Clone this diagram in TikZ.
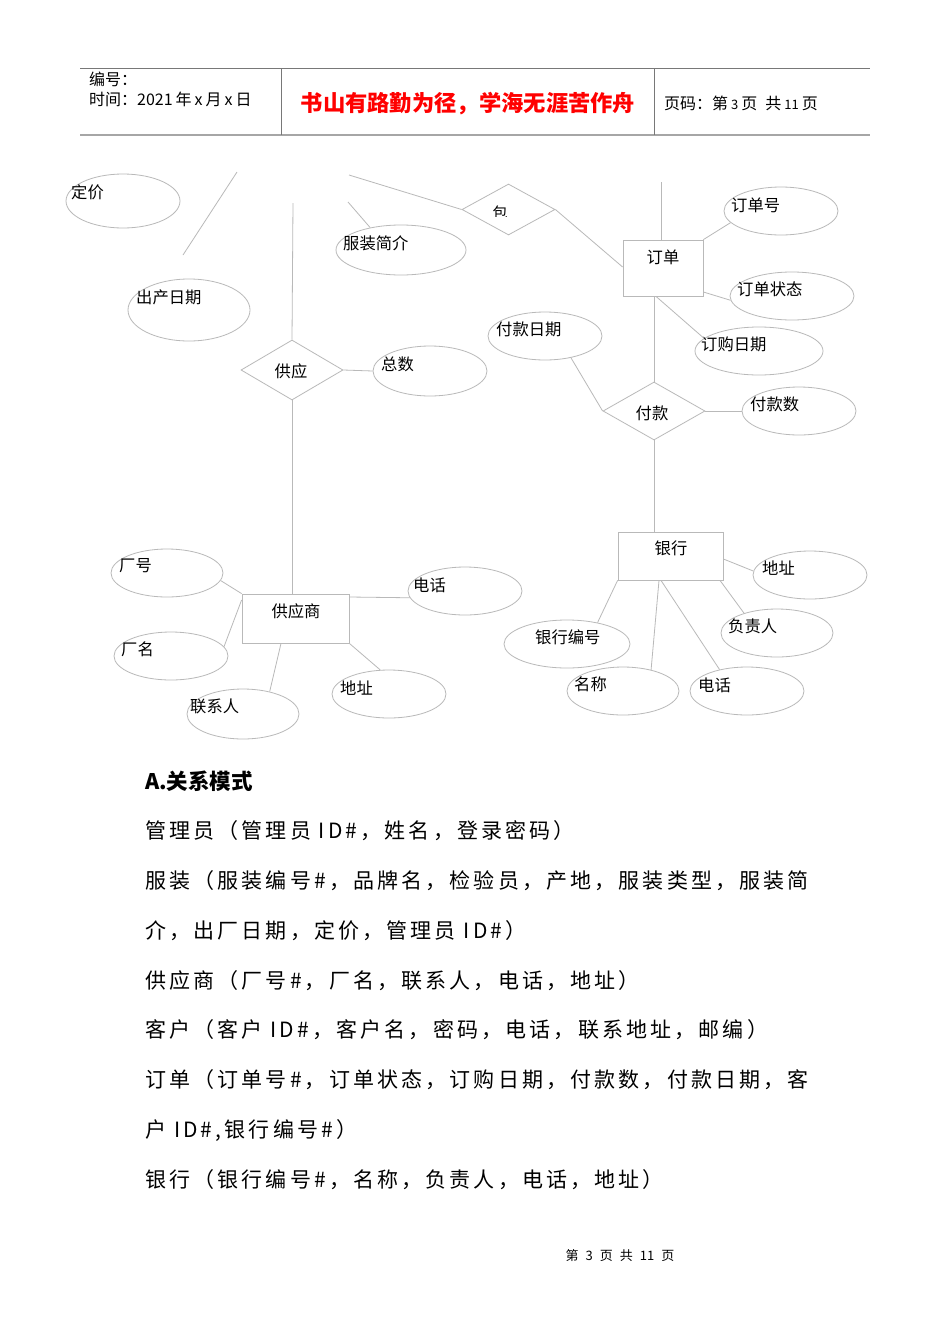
\documentclass[tikz,border=0pt]{standalone}
\usepackage{fontspec}
\setmainfont{Noto Sans CJK SC}
\newfontfamily\bodyfont[LetterSpace=15]{Noto Sans CJK SC}
\usetikzlibrary{shapes.geometric}
\definecolor{ln}{RGB}{185,185,185}
\definecolor{hd}{RGB}{120,120,120}
\tikzset{
  ent/.style={draw=ln, line width=0.8pt, inner sep=0pt},
  attr/.style={draw=ln, line width=0.8pt, ellipse, inner sep=0pt},
  rel/.style={draw=ln, line width=0.8pt, diamond, inner sep=0pt},
  con/.style={draw=ln, line width=0.8pt},
  lab/.style={anchor=west, inner sep=0pt, font=\fontsize{16.3}{17}\selectfont},
  hdr/.style={anchor=west, inner sep=0pt, font=\fontsize{16}{17}\selectfont},
  body/.style={anchor=west, inner sep=0pt, font=\bodyfont\fontsize{21}{23}\selectfont},
}
\begin{document}
\begin{tikzpicture}[x=1pt,y=-1pt]
\useasboundingbox[fill=white] (0,0) rectangle (950,1344);
% header
\coordinate (hl) at (80,68); \coordinate (hr) at (870,68);
\coordinate (bl) at (80,135); \coordinate (br) at (870,135);
\coordinate (v1t) at (281,68); \coordinate (v1b) at (281,135);
\coordinate (v2t) at (654,68); \coordinate (v2b) at (654,135);
\draw[hd, line width=0.8pt] (hl) -- (hr);
\draw[gray!70, line width=1.8pt] (bl) -- (br);
\draw[hd, line width=0.8pt] (v1t) -- (v1b) (v2t) -- (v2b);
\node[hdr] (h1) at (89,79) {编号：};
\node[hdr] (h2) at (89,99) {时间：2021\hspace{3pt}年\hspace{3pt}x\hspace{3pt}月\hspace{3pt}x\hspace{3pt}日};
\node[inner sep=0pt, text=red, font=\bfseries\fontsize{22.3}{24}\selectfont] (h3) at (468,104) {书山有路勤为径，学海无涯苦作舟};
\node[hdr] (h4) at (664,103) {页码：第\hspace{3pt}{\fontsize{13}{13}\selectfont 3}\hspace{3pt}页\hspace{8pt}共\hspace{3pt}{\fontsize{13}{13}\selectfont 11}\hspace{3pt}页};

% ---- left part
\node[attr, minimum width=114pt, minimum height=54pt] (dj) at (123,201) {};
\node[lab] at (71,192) {定价};
\coordinate (l1a) at (237,172); \coordinate (l1b) at (183,255);
\draw[con] (l1a) -- (l1b);
\node[attr, minimum width=122pt, minimum height=62pt] (ccrq) at (189,310) {};
\node[lab] at (136,297) {出产日期};
\node[attr, minimum width=130pt, minimum height=50pt] (fzjj) at (401,250) {};
\node[lab] at (343,243) {服装简介};
\coordinate (l2a) at (348,202);
\draw[con] (l2a) -- (fzjj.144);
\coordinate (vtop) at (293,203);
\node[rel, minimum width=102pt, minimum height=60pt] (gy) at (292,370) {};
\node[font=\fontsize{16.3}{17}\selectfont] at (291,371) {供应};
\draw[con] (vtop) -- (gy.north);
\node[attr, minimum width=114pt, minimum height=50pt] (zs) at (430,371) {};
\node[lab] at (381,364) {总数};
\draw[con] (gy.east) -- (zs.west);
\node[ent, minimum width=107pt, minimum height=49pt] (gys) at (295.5,618.5) {};
\node[font=\fontsize{16.3}{17}\selectfont] at (296,611) {供应商};
\draw[con] (gy.south) -- (gys.north -| gy.south);

\node[attr, minimum width=112pt, minimum height=48pt] (ch) at (167,573) {};
\node[lab] at (119,566) {厂号};
\node[attr, minimum width=114pt, minimum height=48pt] (cm) at (171,656) {};
\node[lab] at (121,649) {厂名};
\node[attr, minimum width=112pt, minimum height=50pt] (lxr) at (243,714) {};
\node[lab] at (190,706) {联系人};
\node[attr, minimum width=114pt, minimum height=48pt] (dz1) at (389,694) {};
\node[lab] at (340,688) {地址};
\node[attr, minimum width=114pt, minimum height=48pt] (dh1) at (465,591) {};
\node[lab] at (413,585) {电话};
\draw[con] (ch.-8) -- (gys.north west);
\draw[con] (gys.west |- 0,600) -- (cm.10);
\draw[con] (gys.south -| 281,0) -- (lxr.40);
\draw[con] (gys.south east) -- (dz1.110);
\draw[con] (gys.east |- 0,597) -- (dh1.187);

% ---- right part
\coordinate (l3a) at (349,175);
\node[rel, minimum width=93pt, minimum height=51pt] (bao) at (508.5,209.5) {};
\begin{scope}
\clip (490,198) rectangle (525,216);
\node[font=\fontsize{15}{16}\selectfont] at (500,213) {包};
\end{scope}
\draw[con] (l3a) -- (bao.west);
\node[ent, minimum width=80pt, minimum height=56pt] (dd) at (663,268) {};
\node[font=\fontsize{16.3}{17}\selectfont] at (663,257) {订单};
\draw[con] (bao.east) -- (dd.west |- 0,267);
\coordinate (l4a) at (661,182);
\draw[con] (l4a) -- (dd.north -| l4a);
\node[attr, minimum width=114pt, minimum height=48pt] (ddh) at (781,211) {};
\node[lab] at (731,205) {订单号};
\node[attr, minimum width=124pt, minimum height=48pt] (ddzt) at (792,296) {};
\node[lab] at (737,289) {订单状态};
\node[attr, minimum width=128pt, minimum height=48pt] (dgrq) at (759,351) {};
\node[lab] at (701,344) {订购日期};
\draw[con] (dd.north east) -- (ddh.193);
\draw[con] (dd.east |- 0,292) -- (ddzt.184);
\draw[con] (dd.south -| 656,0) -- (dgrq.167);
\node[rel, minimum width=102pt, minimum height=58pt] (fk) at (654,411) {};
\node[font=\fontsize{16.3}{17}\selectfont] at (652,413) {付款};
\draw[con] (dd.south -| fk.north) -- (fk.north);
\node[attr, minimum width=114pt, minimum height=48pt] (fkrq) at (545,336) {};
\node[lab] at (496,329) {付款日期};
\node[attr, minimum width=114pt, minimum height=48pt] (fks) at (799,411) {};
\node[lab] at (750,404) {付款数};
\draw[con] (fkrq.-40) -- (fk.west);
\draw[con] (fk.east) -- (fks.west);
\node[ent, minimum width=105pt, minimum height=48pt] (yh) at (670.5,556) {};
\node[font=\fontsize{16.3}{17}\selectfont] at (671,548) {银行};
\draw[con] (fk.south) -- (yh.north -| fk.south);
\node[attr, minimum width=114pt, minimum height=48pt] (dz2) at (810,575) {};
\node[lab] at (762,568) {地址};
\node[attr, minimum width=112pt, minimum height=48pt] (fzr) at (777,633) {};
\node[lab] at (728,626) {负责人};
\node[attr, minimum width=114pt, minimum height=48pt] (dh2) at (747,691) {};
\node[lab] at (698,685) {电话};
\node[attr, minimum width=112pt, minimum height=48pt] (mc) at (623,691) {};
\node[lab] at (574,684) {名称};
\node[attr, minimum width=126pt, minimum height=48pt] (yhbh) at (567,644) {};
\node[lab] at (535,637) {银行编号};
\draw[con] (yh.east |- 0,559) -- (dz2.176);
\draw[con] (yh.south -| 720,0) -- (fzr.149);
\draw[con] (yh.south -| 661,0) -- (dh2.142);
\draw[con] (yh.south -| 659,0) -- (mc.37);
\draw[con] (yh.south west) -- (yhbh.35);

% ---- text
\node[anchor=west, inner sep=0pt, font=\bfseries\fontsize{21.5}{23}\selectfont] (ta) at (145,781) {A.关系模式};
\node[body] (t1) at (145,831) {管理员（管理员 ID\#，姓名，登录密码）};
\node[body] (t2) at (145,881) {服装（服装编号\#，品牌名，检验员，产地，服装类型，服装简};
\node[body] (t3) at (145,931) {介，出厂日期，定价，管理员 ID\#）};
\node[body] (t4) at (145,981) {供应商（厂号\#，厂名，联系人，电话，地址）};
\node[body] (t5) at (145,1030) {客户（客户 ID\#，客户名，密码，电话，联系地址，邮编）};
\node[body] (t6) at (145,1080) {订单（订单号\#，订单状态，订购日期，付款数，付款日期，客};
\node[body] (t7) at (145,1130) {户 ID\#,银行编号\#）};
\node[body] (t8) at (145,1180) {银行（银行编号\#，名称，负责人，电话，地址）};
\node[inner sep=0pt, font=\fontsize{13}{14}\selectfont] (ft) at (620,1256) {第\hspace{7pt}3\hspace{7pt}页\hspace{7pt}共\hspace{7pt}11\hspace{7pt}页};
\end{tikzpicture}
\end{document}
